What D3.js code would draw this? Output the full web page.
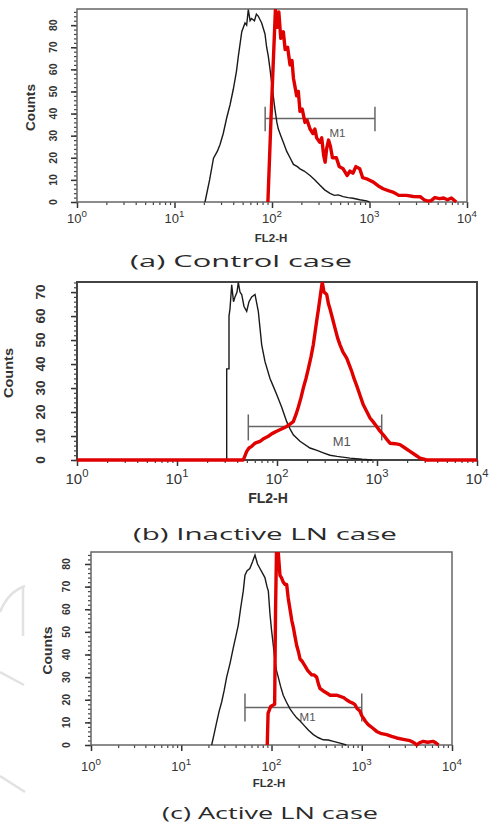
<!DOCTYPE html>
<html>
<head>
<meta charset="utf-8">
<script src="https://cdn.jsdelivr.net/npm/d3@7/dist/d3.min.js"></script>
<style>
body { margin: 0; background: #fff; }
text { font-family: "Liberation Sans Narrow", "Liberation Sans", Arial, sans-serif; }
</style>
</head>
<body>
<svg id="chart" width="489" height="825"></svg>
<script>
// x values are log10(FL2-H), y values are counts

var decades = [0, 1, 2, 3, 4];
var countTicksA = [0, 10, 20, 30, 40, 50, 60, 70, 80];
var countTicksB = [0, 10, 20, 30, 40, 50, 60, 70];
var countTicksC = [0, 10, 20, 30, 40, 50, 60, 70, 80];

// (a) control case
var ctrlIsotype = [[1.313,0],[1.36,10],[1.40,19.8],[1.44,23],[1.467,26],[1.50,31],[1.535,38],[1.57,44],[1.603,51],[1.635,59],[1.655,66],[1.69,77],[1.723,81],[1.74,80],[1.757,87],[1.775,82],[1.79,83],[1.82,82],[1.84,85],[1.86,84],[1.894,81],[1.928,76],[1.945,70],[1.962,66],[1.98,60],[1.996,54],[2.03,42],[2.05,36],[2.065,33],[2.09,30],[2.116,27],[2.15,23],[2.185,20],[2.22,17],[2.26,16],[2.287,15],[2.33,14],[2.36,13],[2.39,12],[2.44,10],[2.49,7.7],[2.54,5.5],[2.595,3.9],[2.64,3],[2.68,3.2],[2.73,2.4],[2.78,2],[2.83,1.7],[2.9,1],[2.97,0.5],[3.0,0]];
var ctrlStained = [[1.958,0],[1.99,38],[2.035,87],[2.055,79],[2.07,86],[2.09,74],[2.116,77],[2.135,69],[2.16,70],[2.185,62],[2.205,64],[2.22,56],[2.253,48],[2.27,50],[2.287,41],[2.31,42],[2.338,36],[2.36,37],[2.39,33],[2.42,31],[2.44,33],[2.458,29],[2.49,27],[2.51,29],[2.53,21],[2.545,18],[2.56,24],[2.58,28],[2.6,25],[2.62,20],[2.66,20],[2.69,16],[2.73,15],[2.77,12],[2.8,14],[2.83,13],[2.86,16],[2.9,15],[2.93,11],[2.97,10.5],[3.04,9],[3.1,7],[3.14,6],[3.2,5],[3.24,4.5],[3.3,3],[3.38,3],[3.45,2.5],[3.52,2.4],[3.56,1],[3.59,0.5],[3.63,0.5],[3.67,2],[3.72,1.5],[3.76,1.8],[3.8,1],[3.84,1.8],[3.89,0]];
// gate M1: [from, to, level, labelX, labelY]
var ctrlGate = [1.93, 3.056, 37.8, 2.672, 29.6];

// (b) inactive LN case
var inactiveIsotype = [[1.497,0],[1.497,38],[1.52,38],[1.52,60],[1.53,63],[1.547,73],[1.565,66],[1.58,68],[1.6,70],[1.613,74],[1.63,70],[1.647,69],[1.67,64],[1.697,62],[1.72,66],[1.747,68],[1.78,69],[1.813,62],[1.83,55],[1.847,48],[1.88,41],[1.93,34],[1.96,31],[2.0,27],[2.047,22],[2.097,16],[2.13,13],[2.163,10.5],[2.23,7.8],[2.33,5],[2.4,4],[2.463,3],[2.53,2],[2.6,1.5],[2.73,0.8],[2.85,0.3],[2.95,0]];
var inactiveStained = [[0,0],[1.663,0],[1.697,3.6],[1.72,5],[1.747,5.7],[1.78,7],[1.83,7.8],[1.87,9],[1.913,9.9],[1.95,11],[1.997,12],[2.05,13],[2.097,14],[2.13,15],[2.163,16],[2.19,19],[2.213,22],[2.24,26],[2.263,30],[2.29,34],[2.313,38],[2.34,43],[2.363,48],[2.38,53],[2.397,58],[2.415,63],[2.43,67.5],[2.445,72],[2.453,74],[2.47,70],[2.497,69],[2.515,65],[2.53,63],[2.555,59],[2.58,55],[2.605,51],[2.63,48],[2.66,45],[2.697,42.5],[2.72,40],[2.747,37],[2.77,34],[2.797,31],[2.83,27],[2.863,23],[2.9,20],[2.93,17.5],[2.96,16],[2.997,14],[3.03,12],[3.063,10.5],[3.1,8.5],[3.13,7],[3.18,6.8],[3.23,6.4],[3.28,5],[3.33,3.6],[3.38,2.2],[3.43,0.8],[3.497,0],[4,0]];
var inactiveGate = [1.713, 3.047, 14, 2.647, 5.8];

// (c) active LN case
var activeIsotype = [[1.337,0],[1.365,5],[1.392,10],[1.42,15],[1.448,19],[1.475,24],[1.503,30],[1.54,36],[1.577,43],[1.605,48],[1.632,53],[1.66,61],[1.687,68],[1.706,75],[1.73,77],[1.76,78],[1.79,81],[1.817,84],[1.845,80],[1.872,78],[1.9,76],[1.927,74],[1.95,70],[1.965,68],[1.983,58],[2.0,51],[2.02,44],[2.039,37],[2.055,33],[2.075,30],[2.1,26],[2.13,22],[2.165,19],[2.205,16],[2.24,14],[2.279,12],[2.32,10.5],[2.353,9],[2.41,6.5],[2.464,4.6],[2.52,3.2],[2.574,2.3],[2.63,2.2],[2.685,1.6],[2.76,0.8],[2.83,0]];
var activeStained = [[1.953,0],[1.962,14],[1.99,17],[2.035,18],[2.045,60],[2.055,85],[2.075,85],[2.094,75],[2.11,74],[2.13,72],[2.15,71],[2.168,71],[2.185,65],[2.205,60],[2.225,55],[2.242,52],[2.26,48],[2.279,44],[2.3,41],[2.316,38],[2.34,37],[2.371,35],[2.4,33],[2.445,31],[2.47,31],[2.5,30],[2.52,27],[2.537,25],[2.57,24],[2.611,23],[2.65,22],[2.685,22],[2.72,22],[2.76,21.5],[2.796,21],[2.83,20],[2.87,19],[2.9,18.5],[2.925,17.8],[2.95,16],[2.98,15],[3.0,13],[3.017,12],[3.04,10.5],[3.072,9],[3.12,7.5],[3.165,6],[3.22,5],[3.276,4.6],[3.33,3.8],[3.387,3.1],[3.46,2.5],[3.535,1.9],[3.58,1],[3.609,0],[3.64,1],[3.68,1.6],[3.73,1.2],[3.79,1.6],[3.82,1],[3.85,0]];
var activeGate = [1.706, 3.0, 16.6, 2.4, 10.6];

var captions = ["(a)  Control case", "(b) Inactive LN case", "(c) Active LN case"];

var svg = d3.select("#chart");

// faint watermark strokes on the left of panel c
var wm = d3.path();
wm.moveTo(0, 612);
wm.quadraticCurveTo(8, 592, 25, 586);
wm.moveTo(23, 588);
wm.lineTo(23, 636);
wm.moveTo(0, 672);
wm.lineTo(24, 685);
wm.moveTo(0, 776);
wm.lineTo(25, 792);
svg.append("path")
    .attr("d", wm.toString())
    .attr("fill", "none")
    .attr("stroke", "#e2e2e2")
    .attr("stroke-width", 2.5);

var panels = [
    {key: "a", left: 77, right: 467, top: 9, bottom: 202, yMax: 87.3,
     ticks: countTicksA, black: ctrlIsotype, red: ctrlStained, gate: ctrlGate, caption: captions[0],
     frame: "#666", fw: 1.5, yLab: 20, yLabSize: 10.5, cntOff: 42, cntSize: 12, cntLen: 47,
     xLab: 21, xLabSize: 13, titleOff: 40, titleSize: 11.5, titleX: 271,
     capX: 241, capY: 267, capSize: 16, capLen: 222, capUp: 11.6, capDown: 12.7, redW: 3.4},
    {key: "b", left: 77, right: 477, top: 282, bottom: 460, yMax: 74.2,
     ticks: countTicksB, black: inactiveIsotype, red: inactiveStained, gate: inactiveGate, caption: captions[1],
     frame: "#444", fw: 2, yLab: 32, yLabSize: 13.5, cntOff: 64, cntSize: 12, cntLen: 50,
     xLab: 24, xLabSize: 15, titleOff: 43, titleSize: 14, titleX: 268,
     capX: 265, capY: 540, capSize: 17, capLen: 264, capUp: 12, capDown: 14, redW: 3.4},
    {key: "c", left: 91, right: 452, top: 552, bottom: 745, yMax: 85.3,
     ticks: countTicksC, black: activeIsotype, red: activeStained, gate: activeGate, caption: captions[2],
     frame: "#666", fw: 1.5, yLab: 21, yLabSize: 10.5, cntOff: 39, cntSize: 12, cntLen: 48,
     xLab: 26, xLabSize: 13, titleOff: 42, titleSize: 11.5, titleX: 269,
     capX: 270, capY: 819, capSize: 16, capLen: 216, capUp: 14, capDown: 14, redW: 3.4}
];

panels.forEach(drawPanel);

function drawPanel(p) {
    var g = svg.append("g").attr("class", "panel_" + p.key);

    var x = d3.scaleLinear().domain([0, 4]).range([p.left, p.right]);
    var y = d3.scaleLinear().domain([0, p.yMax]).range([p.bottom, p.top]);

    g.append("clipPath").attr("id", "clip_" + p.key)
        .append("rect")
        .attr("x", p.left - 2).attr("y", p.top)
        .attr("width", p.right - p.left + 4).attr("height", p.bottom - p.top + 2);

    // y axis ticks (major + minor), pointing out
    var yMinor = d3.range(0, p.yMax, 2);
    g.append("g")
        .attr("transform", "translate(" + p.left + ",0)")
        .call(d3.axisLeft(y).tickValues(yMinor).tickSize(3).tickFormat(""))
        .call(a => a.select(".domain").remove())
        .selectAll("line").attr("stroke", "#444").attr("stroke-width", 1.2);
    g.append("g")
        .attr("transform", "translate(" + p.left + ",0)")
        .call(d3.axisLeft(y).tickValues(p.ticks).tickSize(6).tickFormat(""))
        .call(a => a.select(".domain").remove())
        .selectAll("line").attr("stroke", "#333").attr("stroke-width", 1.5);

    // x axis: decades + log minor ticks
    var xMinor = [];
    decades.slice(0, -1).forEach(function(e) {
        d3.range(2, 10).forEach(function(k) { xMinor.push(e + Math.log10(k)); });
    });
    g.append("g")
        .attr("transform", "translate(0," + p.bottom + ")")
        .call(d3.axisBottom(x).tickValues(xMinor).tickSize(3).tickFormat(""))
        .call(a => a.select(".domain").remove())
        .selectAll("line").attr("stroke", "#444").attr("stroke-width", 1.2);
    g.append("g")
        .attr("transform", "translate(0," + p.bottom + ")")
        .call(d3.axisBottom(x).tickValues(decades).tickSize(6).tickFormat(""))
        .call(a => a.select(".domain").remove())
        .selectAll("line").attr("stroke", "#333").attr("stroke-width", 1.5);

    // frame
    g.append("rect")
        .attr("x", p.left).attr("y", p.top)
        .attr("width", p.right - p.left).attr("height", p.bottom - p.top)
        .attr("fill", "none").attr("stroke", p.frame).attr("stroke-width", p.fw);

    // rotated count labels
    g.selectAll("text.ytick").data(p.ticks).enter().append("text")
        .attr("class", "ytick")
        .attr("transform", d => "translate(" + (p.left - p.yLab) + "," + y(d) + ") rotate(-90)")
        .attr("text-anchor", "middle")
        .attr("font-size", p.yLabSize)
        .attr("font-weight", "bold")
        .attr("fill", "#333")
        .text(d => d);

    g.append("text")
        .attr("transform", "translate(" + (p.left - p.cntOff) + "," + ((p.top + p.bottom) / 2 + 2) + ") rotate(-90)")
        .attr("text-anchor", "middle")
        .attr("font-size", p.cntSize)
        .attr("font-weight", "bold")
        .attr("fill", "#333")
        .attr("textLength", p.cntLen)
        .attr("lengthAdjust", "spacingAndGlyphs")
        .text("Counts");

    // decade labels 10^n
    var xl = g.selectAll("text.xtick").data(decades).enter().append("text")
        .attr("class", "xtick")
        .attr("x", d => x(d))
        .attr("y", p.bottom + p.xLab)
        .attr("text-anchor", "middle")
        .attr("font-size", p.xLabSize)
        .attr("fill", "#333");
    xl.append("tspan").text("10");
    xl.append("tspan")
        .attr("dy", -p.xLabSize * 0.45)
        .attr("font-size", p.xLabSize * 0.75)
        .text(d => d);

    g.append("text")
        .attr("x", p.titleX)
        .attr("y", p.bottom + p.titleOff)
        .attr("text-anchor", "middle")
        .attr("font-size", p.titleSize)
        .attr("font-weight", "bold")
        .attr("fill", "#333")
        .text("FL2-H");

    // M1 gate
    var gate = p.gate;
    var gg = g.append("g").attr("stroke", "#666").attr("stroke-width", 1.5);
    gg.append("line")
        .attr("x1", x(gate[0])).attr("x2", x(gate[1]))
        .attr("y1", y(gate[2])).attr("y2", y(gate[2]));
    [gate[0], gate[1]].forEach(function(v) {
        gg.append("line")
            .attr("x1", x(v)).attr("x2", x(v))
            .attr("y1", y(gate[2]) - p.capUp).attr("y2", y(gate[2]) + p.capDown);
    });
    g.append("text")
        .attr("x", x(gate[3])).attr("y", y(gate[4]))
        .attr("text-anchor", "middle")
        .attr("font-size", p.key == "b" ? 13 : 11.5)
        .attr("fill", "#555")
        .text("M1");

    var line = d3.line()
        .x(d => x(d[0]))
        .y(d => y(d[1]));

    var plot = g.append("g").attr("clip-path", "url(#clip_" + p.key + ")");
    plot.append("path")
        .datum(p.black)
        .attr("d", line)
        .attr("fill", "none")
        .attr("stroke", "#1a1a1a")
        .attr("stroke-width", 1.4)
        .attr("stroke-linejoin", "miter");
    plot.append("path")
        .datum(p.red)
        .attr("d", line)
        .attr("fill", "none")
        .attr("stroke", "#e00000")
        .attr("stroke-width", p.redW)
        .attr("stroke-linejoin", "round");

    // caption
    g.append("text")
        .attr("x", p.capX)
        .attr("y", p.capY)
        .attr("text-anchor", "middle")
        .attr("font-size", p.capSize)
        .attr("fill", "#2a2a2a")
        .attr("textLength", p.capLen)
        .attr("lengthAdjust", "spacingAndGlyphs")
        .style("font-family", "'Open Sans', 'DejaVu Sans', sans-serif")
        .text(p.caption);
}
</script>
</body>
</html>
